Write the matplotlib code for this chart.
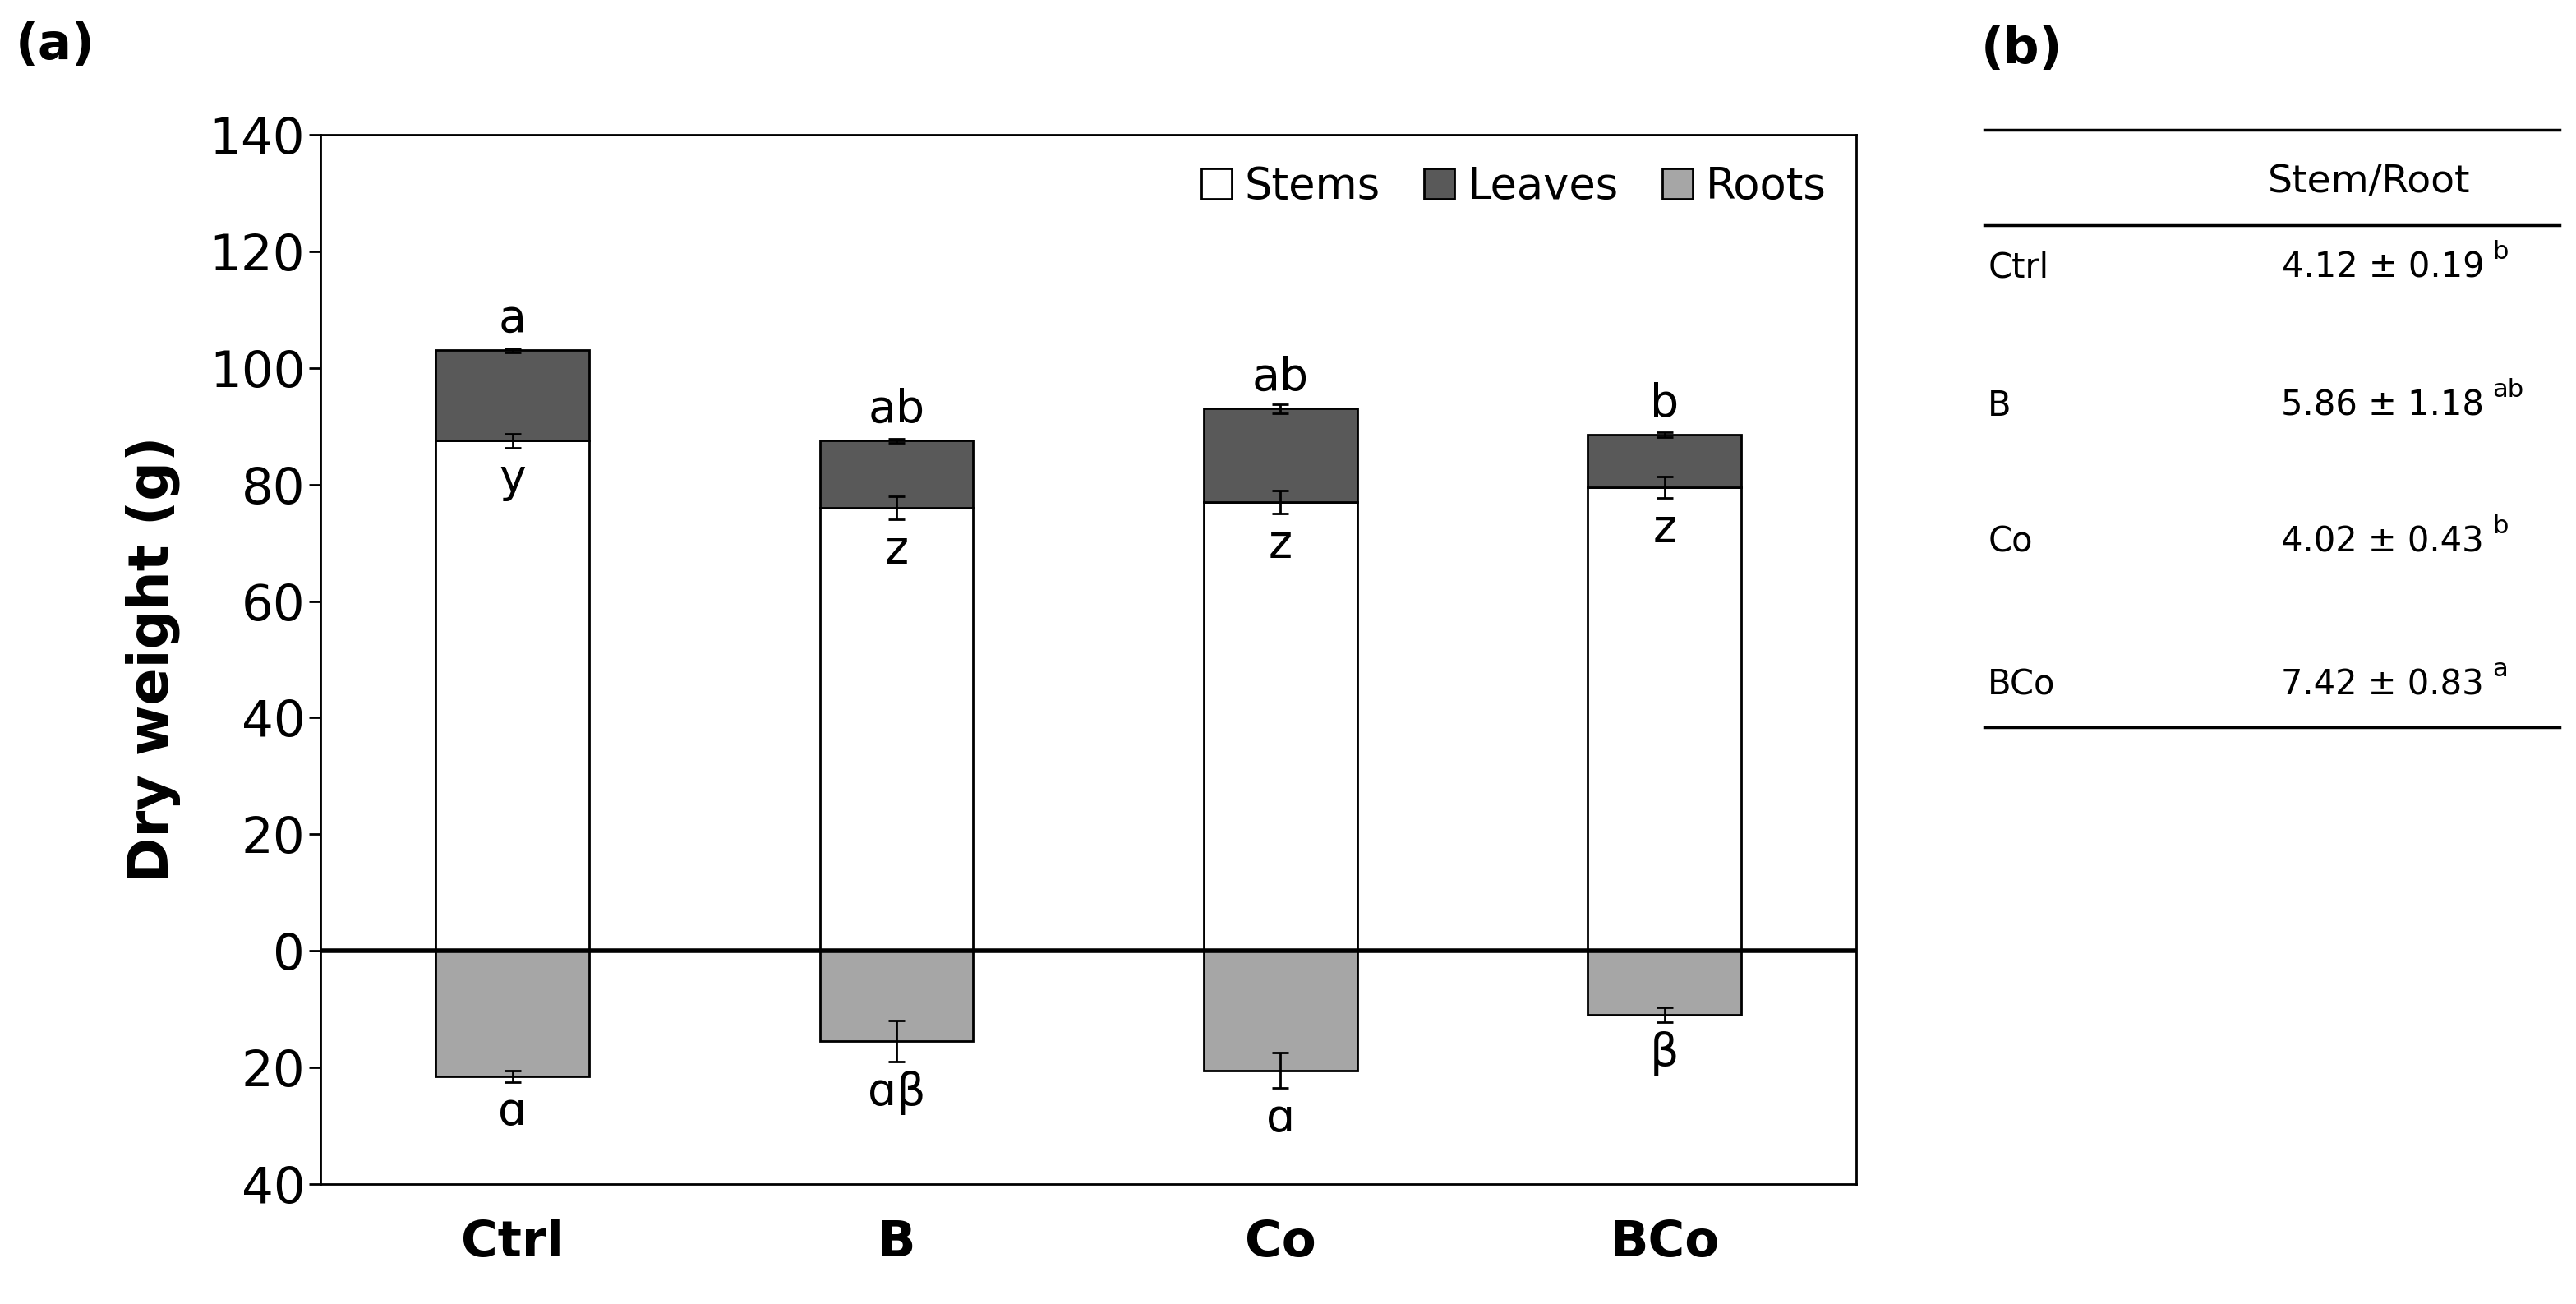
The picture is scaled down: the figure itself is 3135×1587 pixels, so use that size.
import matplotlib
matplotlib.use("Agg")
import matplotlib.pyplot as plt
import numpy as np

cats = ["Ctrl", "B", "Co", "BCo"]
stems = [87.5, 76.0, 77.0, 79.5]
stems_err = [1.2, 2.0, 2.0, 1.8]
leaves = [15.5, 11.5, 16.0, 9.0]
leaves_err = [0.3, 0.3, 0.8, 0.4]
roots = [21.5, 15.5, 20.5, 11.0]
roots_err = [1.0, 3.5, 3.0, 1.3]
top_letters = ["a", "ab", "ab", "b"]
stem_letters = ["y", "z", "z", "z"]
root_letters = ["ɑ", "ɑβ", "ɑ", "β"]
table_rows = ["Ctrl", "B", "Co", "BCo"]
table_vals = ["4.12 ± 0.19", "5.86 ± 1.18", "4.02 ± 0.43", "7.42 ± 0.83"]
table_sup = ["b", "ab", "b", "a"]

plt.rcParams['font.family'] = ['DejaVu Sans']
fig = plt.figure(figsize=(31.35, 15.87), dpi=100)
ax = fig.add_axes([0.1244, 0.092, 0.5963, 0.8047])
x = np.arange(len(cats))
w = 0.4
stems_a = np.array(stems); leaves_a = np.array(leaves); roots_a = np.array(roots)
ek = dict(capsize=7, elinewidth=2, capthick=2, ecolor='black')
ax.bar(x, stems_a, w, color='white', edgecolor='black', lw=2, label='Stems', zorder=2)
ax.bar(x, leaves_a, w, bottom=stems_a, color='#595959', edgecolor='black', lw=2, label='Leaves', zorder=2)
ax.bar(x, -roots_a, w, color='#a6a6a6', edgecolor='black', lw=2, label='Roots', zorder=2)
ax.errorbar(x, stems_a, yerr=stems_err, fmt='none', zorder=3, **ek)
ax.errorbar(x, stems_a + leaves_a, yerr=leaves_err, fmt='none', zorder=3, **ek)
ax.errorbar(x, -roots_a, yerr=roots_err, fmt='none', zorder=3, **ek)
ax.axhline(0, color='black', lw=4, zorder=4)
fs = 40
for i in range(len(cats)):
    ax.text(x[i], stems[i] + leaves[i] + 1.5, top_letters[i], ha='center', va='bottom', fontsize=fs)
    ax.text(x[i], stems[i] - stems_err[i] - 1.5, stem_letters[i], ha='center', va='top', fontsize=fs)
    ax.text(x[i], -roots[i] - roots_err[i] - 1.5, root_letters[i], ha='center', va='top', fontsize=fs)
ax.set_xlim(-0.5, 3.5)
ax.set_ylim(-40, 140)
yt = np.arange(-40, 141, 20)
ax.set_yticks(yt)
ax.set_yticklabels([str(abs(v)) for v in yt], fontsize=44)
ax.set_xticks(x)
ax.set_xticklabels(cats, fontsize=44, fontweight='bold')
ax.tick_params(axis='x', length=0, pad=30)
ax.tick_params(axis='y', length=10, width=2, direction='out')
for s in ax.spines.values():
    s.set_linewidth(2)
ax.set_ylabel("Dry weight (g)", fontsize=48, fontweight='bold', labelpad=25)
ax.legend(loc='upper right', ncol=3, frameon=False, fontsize=38, handlelength=0.7,
          handleheight=0.7, columnspacing=1.0, handletextpad=0.3, borderaxespad=0.3)

fig.text(0.006, 0.965, "(a)", fontsize=44, fontweight='bold', va='center')
fig.text(0.769, 0.962, "(b)", fontsize=44, fontweight='bold', va='center')

# table
tl, tr = 1208/1568, 1558/1568
for yy, lw in [(79, 2.5), (137, 2.5), (443, 2.5)]:
    fig.add_artist(plt.Line2D([tl, tr], [1 - yy/794]*2, color='black', lw=lw))
fig.text(1442/1568, 1 - 111/794, "Stem/Root", fontsize=34, ha='center', va='center')
rows_y = [163, 247, 330, 417]
for r, v, s, yy in zip(table_rows, table_vals, table_sup, rows_y):
    yf = 1 - yy/794
    fig.text(1210/1568, yf, r, fontsize=30, ha='left', va='center')
    t = fig.text(1512/1568, yf, v, fontsize=30, ha='right', va='center')
    fig.text(1517/1568, yf + 0.012, s, fontsize=22, ha='left', va='center')

fig.savefig("out.png", dpi=100)
